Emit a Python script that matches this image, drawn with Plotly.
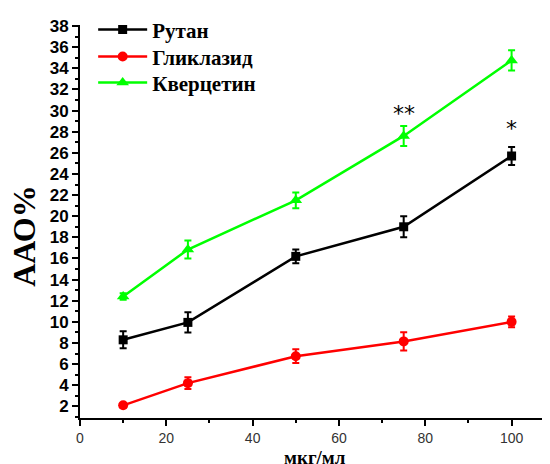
import plotly.graph_objects as go

x_conc = [10, 25, 50, 75, 100]

rutan = [8.3, 9.95, 16.2, 19.0, 25.7]
rutan_err = [0.8, 0.95, 0.65, 1.0, 0.85]

gliclazid = [2.1, 4.2, 6.75, 8.15, 10.0]
gliclazid_err = [0.2, 0.55, 0.65, 0.87, 0.5]

quercetin = [12.4, 16.85, 21.5, 27.6, 34.75]
quercetin_err = [0.3, 0.85, 0.75, 0.95, 0.95]

series_names = ["Рутан", "Гликлазид", "Кверцетин"]
y_ticks = list(range(2, 39, 2))
x_ticks = [0, 20, 40, 60, 80, 100]

fig = go.Figure()

specs = [
    (series_names[0], rutan, rutan_err, "#000000", "square", 9, "legend"),
    (series_names[1], gliclazid, gliclazid_err, "#ff0000", "circle", 10, "legend2"),
    (series_names[2], quercetin, quercetin_err, "#00ff00", "triangle-up", 11, "legend3"),
]
for name, ys, errs, col, sym, sz, lg in specs:
    fig.add_trace(go.Scatter(
        x=x_conc, y=ys, name=name, mode="lines+markers", legend=lg,
        line=dict(color=col, width=2.5),
        marker=dict(symbol=sym, size=sz, color=col),
        error_y=dict(type="data", array=errs, visible=True, color=col,
                     thickness=2, width=3.5),
    ))

# significance marks
fig.add_annotation(x=x_conc[3], y=quercetin[3] + quercetin_err[3] + 1.2, text="**",
                   showarrow=False, font=dict(family="DejaVu Sans", size=22, color="black"))
fig.add_annotation(x=x_conc[4], y=rutan[4] + rutan_err[4] + 1.75, text="*",
                   showarrow=False, font=dict(family="DejaVu Sans", size=22, color="black"))

# axis titles
fig.add_annotation(x=0.5, y=0, xref="paper", yref="paper", yanchor="top", yshift=-27,
                   text="<b>мкг/мл</b>", showarrow=False,
                   font=dict(family="Liberation Serif", size=19, color="black"))
fig.add_annotation(x=0, y=0.4635, xref="paper", yref="paper", xanchor="center", yanchor="middle",
                   xshift=-56, textangle=-90,
                   text="<b>ААО%</b>", showarrow=False,
                   font=dict(family="Liberation Serif", size=32, color="black"))

legend_font = dict(family="Liberation Serif", size=21, color="black", weight="bold")
legend_common = dict(x=0.028, xanchor="left", yanchor="top", font=legend_font,
                     bgcolor="rgba(0,0,0,0)", itemwidth=49)

fig.update_layout(
    width=550, height=464,
    margin=dict(l=72, r=8, t=17, b=54, autoexpand=False),
    paper_bgcolor="white", plot_bgcolor="white",
    showlegend=True,
    legend=dict(y=1.04, **legend_common),
    legend2=dict(y=0.9713, **legend_common),
    legend3=dict(y=0.9052, **legend_common),
    xaxis=dict(range=[0, 108.9], tickvals=x_ticks, ticks="outside", ticklen=6, tickwidth=1.5,
               tickcolor="black", showline=True, linecolor="black", linewidth=2,
               showgrid=False, zeroline=False, automargin=False,
               tickfont=dict(family="Liberation Sans", size=14, color="#333333"),
               minor=dict(dtick=10, ticks="outside", ticklen=3, tickcolor="black", tickwidth=1.5)),
    yaxis=dict(range=[0.9, 38.1], tickvals=y_ticks, ticks="outside", ticklen=6, tickwidth=1.5,
               tickcolor="black", showline=True, linecolor="black", linewidth=2,
               showgrid=False, zeroline=False, automargin=False,
               tickfont=dict(family="Liberation Sans", size=17, color="black", weight="bold"),
               minor=dict(dtick=1, tick0=1, ticks="outside", ticklen=3, tickcolor="black", tickwidth=1.5)),
)

fig.write_html("out.html")
